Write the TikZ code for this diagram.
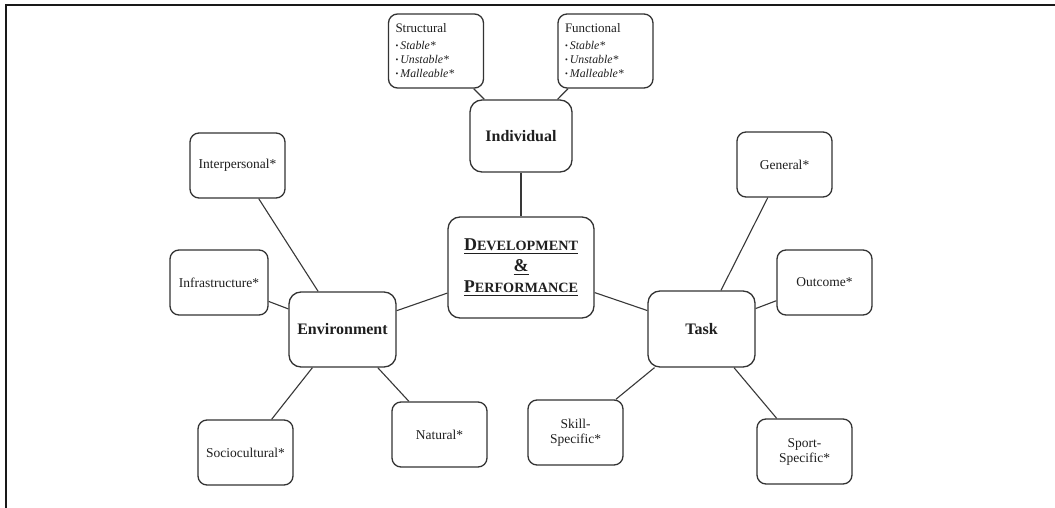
\documentclass[tikz,border=0pt]{standalone}
\usepackage{fontspec}
\setmainfont{Liberation Serif}
\newcommand\myul[1]{\setbox0\hbox{#1}\rlap{\rule[-3pt]{\wd0}{1.2pt}}\box0}
\newcommand\mybul{\raisebox{1.3pt}{\fontsize{8}{8}\selectfont\textbullet}\,}
\newcommand\mysc[2]{#1{\fontsize{14.2}{14.2}\selectfont #2}}
\begin{document}
\begin{tikzpicture}[x=1pt,y=-1pt,
  box/.style={draw=black!80, line width=1.3pt, rounded corners=9pt, inner sep=0pt,
    text=black!88, align=center, font=\fontsize{13.5}{15}\selectfont},
  leaf/.style={box, minimum width=95pt, minimum height=65pt},
  sub/.style={box, minimum width=95pt, minimum height=74pt, align=left,
    text width=81pt, inner xsep=7pt, font=\fontsize{13}{13.5}\selectfont},
  hub/.style={box, rounded corners=12pt, font=\fontsize{16}{18}\selectfont\bfseries},
  link/.style={draw=black!78, line width=1.1pt}]
\useasboundingbox (0,0) rectangle (1055,508);
\fill[white] (0,0) rectangle (1055,508);
% frame (top and left edges)
\coordinate (fr1) at (1055,5);
\coordinate (fr2) at (6,5);
\coordinate (fr3) at (6,508);
\draw[line width=2.4pt, black!90] (fr1) -- (fr2) -- (fr3);

% nodes
\node[hub, minimum width=146pt, minimum height=101pt, font=\fontsize{18}{21}\selectfont\bfseries]
  (dp) at (521,267.5) {\myul{\mysc{D}{EVELOPMENT}}\\\myul{\&}\\\myul{\mysc{P}{ERFORMANCE}}};
\node[hub, minimum width=102pt, minimum height=72pt] (ind) at (521,136) {Individual};
\node[hub, minimum width=107pt, minimum height=75pt] (env) at (342.5,329.5) {Environment};
\node[hub, minimum width=107pt, minimum height=76pt] (task) at (701.5,329) {Task};

\node[sub] (str) at (436,51) {Structural\\[3.5pt]
  {\mybul\itshape\fontsize{11.8}{14}\selectfont Stable*}\\[0.5pt]
  {\mybul\itshape\fontsize{11.8}{14}\selectfont Unstable*}\\[0.5pt]
  {\mybul\itshape\fontsize{11.8}{14}\selectfont Malleable*}};
\node[sub] (fun) at (605.5,51) {Functional\\[3.5pt]
  {\mybul\itshape\fontsize{11.8}{14}\selectfont Stable*}\\[0.5pt]
  {\mybul\itshape\fontsize{11.8}{14}\selectfont Unstable*}\\[0.5pt]
  {\mybul\itshape\fontsize{11.8}{14}\selectfont Malleable*}};

\node[leaf] (int) at (237.5,165.5) {Interpersonal*};
\node[leaf, minimum width=98pt] (inf) at (219,282.5) {Infrastructure*};
\node[leaf] (soc) at (245.5,452.5) {Sociocultural*};
\node[leaf] (nat) at (439.5,434.5) {Natural*};
\node[leaf] (gen) at (784.5,164.5) {General*};
\node[leaf] (out) at (824.5,282.5) {Outcome*};
\node[leaf] (ski) at (575.5,432.5) {Skill-\\Specific*};
\node[leaf] (spo) at (804.5,451.5) {Sport-\\Specific*};

% connectors
\draw[link] (str) -- (ind);
\draw[link] (fun) -- (ind);
\draw[link] (ind) -- (dp);
\draw[link] (dp) -- (env);
\draw[link] (dp) -- (task);
\draw[link] (int) -- (env);
\draw[link] (inf) -- (env);
\draw[link] (env) -- (soc);
\draw[link] (env) -- (nat);
\draw[link] (gen) -- (task);
\draw[link] (out) -- (task);
\draw[link] (task) -- (ski);
\draw[link] (task) -- (spo);
\end{tikzpicture}
\end{document}
